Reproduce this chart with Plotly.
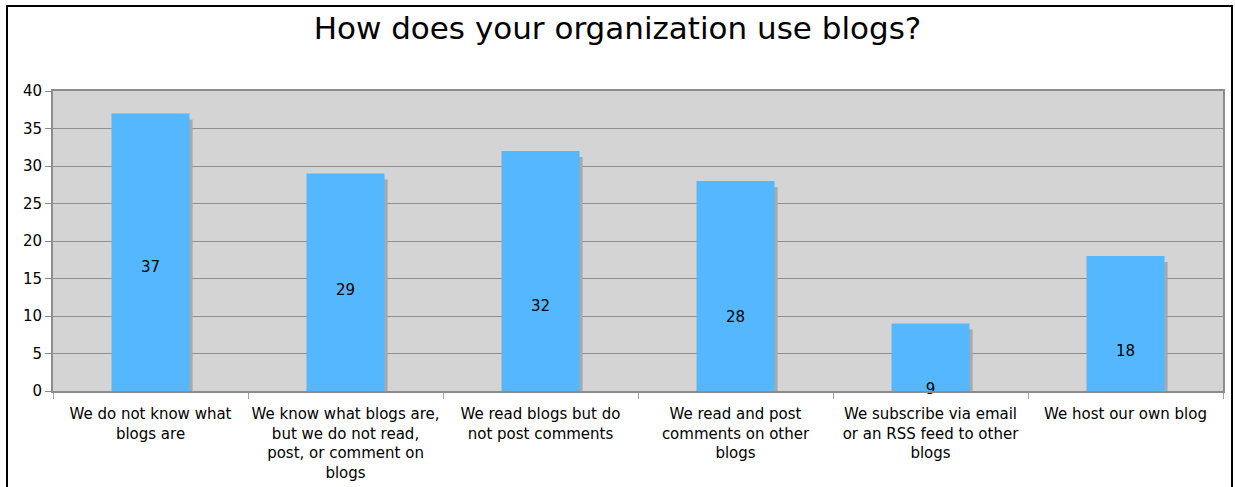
import plotly.graph_objects as go

categories = [
    "We do not know what<br>blogs are",
    "We know what blogs are,<br>but we do not read,<br>post, or comment on<br>blogs",
    "We read blogs but do<br>not post comments",
    "We read and post<br>comments on other<br>blogs",
    "We subscribe via email<br>or an RSS feed to other<br>blogs",
    "We host our own blog",
]
values = [37, 29, 32, 28, 9, 18]
label_y = [16.4, 13.3, 11.2, 9.7, 0.1, 5.2]
y_ticks = [0, 5, 10, 15, 20, 25, 30, 35, 40]

FONT = "DejaVu Sans"
BAR = "#55b8ff"
SHADOW = "#a9a9a9"

fig = go.Figure()
# shadow behind bars
fig.add_trace(go.Bar(
    x=categories, y=[v - 0.4 for v in values], base=-0.4,
    width=0.4, offset=-0.2 + 0.016,
    marker=dict(color=SHADOW, line=dict(width=0)),
    hoverinfo="skip", showlegend=False,
))
fig.add_trace(go.Bar(
    x=categories, y=values, width=0.4, offset=-0.2,
    marker=dict(color=BAR, line=dict(width=0)),
    showlegend=False,
))
fig.add_trace(go.Scatter(
    x=categories, y=label_y, mode="text",
    text=[str(v) for v in values],
    textfont=dict(family=FONT, size=15, color="black"),
    showlegend=False, hoverinfo="skip", cliponaxis=False,
))

fig.update_layout(
    width=1235, height=487,
    margin=dict(l=53, r=12, t=91, b=96, autoexpand=False),
    paper_bgcolor="white", plot_bgcolor="#d4d4d4",
    barmode="overlay",
    font=dict(family=FONT, size=15, color="black"),
    title=dict(text="How does your organization use blogs?",
               x=0.5, xanchor="center", y=0.943, yanchor="middle",
               font=dict(family=FONT, size=31, color="black")),
    xaxis=dict(type="category", tickson="boundaries", ticks="outside",
               ticklen=6, tickcolor="#a0a0a0", showgrid=False,
               showline=True, linecolor="#8c8c8c", linewidth=2, mirror=True,
               tickangle=0, automargin=False, ticklabelstandoff=8,
               tickfont=dict(family=FONT, size=15), range=[-0.5, 5.5]),
    yaxis=dict(range=[0, 40], tickvals=y_ticks, ticks="outside", ticklen=6,
               tickcolor="#8c8c8c", showgrid=True, gridcolor="#8e8e8e",
               gridwidth=1, showline=True, linecolor="#8c8c8c", linewidth=2,
               mirror=True, zeroline=False, automargin=False,
               tickfont=dict(family=FONT, size=15)),
    shapes=[dict(type="rect", xref="paper", yref="paper",
                 x0=(7 - 53) / 1170, x1=(1232 - 53) / 1170,
                 y0=(391 - 490) / 300, y1=(391 - 6) / 300,
                 line=dict(color="black", width=2), fillcolor="rgba(0,0,0,0)",
                 layer="below")],
)

fig.write_html("out.html", config={"displayModeBar": False},
               post_script="document.body.style.margin='0';")
